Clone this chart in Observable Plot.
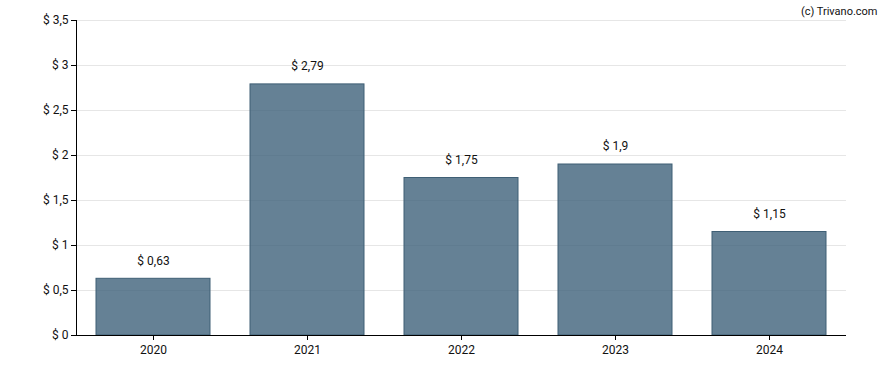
<!DOCTYPE html>
<html><head><meta charset="utf-8">
<script src="https://cdn.jsdelivr.net/npm/d3@7"></script>
<script src="https://cdn.jsdelivr.net/npm/@observablehq/plot@0.6"></script>
<style>
body{margin:0;background:#fff;}
svg{font-family:Roboto,"Liberation Sans",sans-serif;}
</style>
</head><body>
<div id="chart"></div>
<script>
const years = ["2020","2021","2022","2023","2024"];
const values = [0.63, 2.79, 1.75, 1.9, 1.15];
const yTicks = [0, 0.5, 1, 1.5, 2, 2.5, 3, 3.5];
const credit = "(c) Trivano.com";

const data = years.map((y, i) => ({year: y, value: values[i]}));
const fmt = v => "$ " + String(v).replace(".", ",");

const chart = Plot.plot({
  width: 888,
  height: 370,
  marginLeft: 76,
  marginRight: 42,
  marginTop: 20,
  marginBottom: 35,
  style: {fontFamily: "Roboto, sans-serif", fontSize: "12px", color: "#111"},
  x: {domain: years, paddingInner: 0.257, paddingOuter: 0.1285, label: null},
  y: {domain: [0, 3.5], label: null},
  marks: [
    Plot.gridY(yTicks, {stroke: "#e6e6e6", strokeOpacity: 1}),
    Plot.barY(data, {x: "year", y: "value", fill: "#3f627a", fillOpacity: 0.8, stroke: "#3f5f75", strokeWidth: 1}),
    Plot.text(data, {x: "year", y: "value", text: d => fmt(d.value), dy: -18, fontSize: 12, fill: "#111"}),
    Plot.frame({anchor: "left", stroke: "#000"}),
    Plot.axisY({ticks: yTicks, tickFormat: fmt, tickSize: 5, tickPadding: 3, label: null, fontSize: 12, stroke: "#000"}),
    Plot.axisX({tickSize: 5, tickPadding: 5, label: null, fontSize: 12, stroke: "#000"}),
    Plot.ruleY([0], {stroke: "#000"}),
    Plot.text([credit], {frameAnchor: "top-right", text: d => d, dx: 31, dy: -13, fontSize: 11, fill: "#111", textAnchor: "end"})
  ]
});
document.getElementById("chart").appendChild(chart);
</script>
</body></html>
